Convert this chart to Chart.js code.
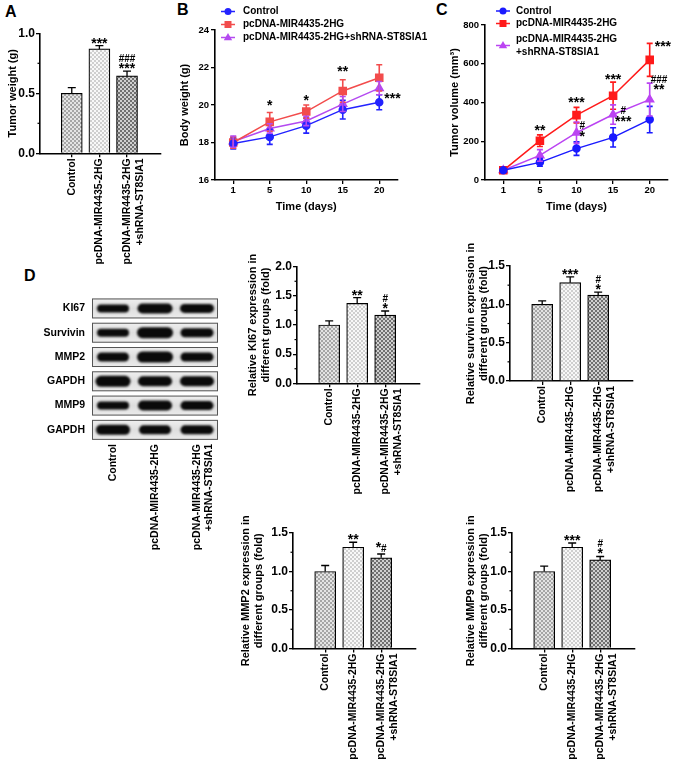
<!DOCTYPE html>
<html>
<head>
<meta charset="utf-8">
<title>MIR4435-2HG tumour figure</title>
<script src="https://cdn.jsdelivr.net/npm/chart.js@4.4.1/dist/chart.umd.min.js"></script>
<style>
  body { margin: 0; width: 677px; height: 771px; position: relative; background: #fff; overflow: hidden; }
  canvas { position: absolute; }
  .panel { position: absolute; font: bold 16px "Liberation Sans", Arial, sans-serif; color: #000; line-height: 18px; }
</style>
</head>
<body>
<div class="panel" style="left:5px;top:3px">A</div>
<div class="panel" style="left:177px;top:1px">B</div>
<div class="panel" style="left:436px;top:1px">C</div>
<div class="panel" style="left:24px;top:267px">D</div>
<script>
// ---------- data ----------
const groups = ['Control', 'pcDNA-MIR4435-2HG', ['pcDNA-MIR4435-2HG', '+shRNA-ST8SIA1']];
const seriesNames = ['Control', 'pcDNA-MIR4435-2HG', 'pcDNA-MIR4435-2HG+shRNA-ST8SIA1'];
const days = ['1', '5', '10', '15', '20'];

// A: tumor weight (g)
const tumorWeight = [0.50, 0.87, 0.645];
const tumorWeightErr = [0.047, 0.028, 0.04];
const tumorWeightStars = ['', '***', ['###', '***']];

// B: body weight (g)
const bodyControl = [17.95, 18.3, 18.9, 19.75, 20.15];
const bodyControlErr = [0.3, 0.4, 0.4, 0.5, 0.4];
const bodyMir = [18.0, 19.1, 19.65, 20.75, 21.45];
const bodyMirErr = [0.3, 0.5, 0.35, 0.6, 0.7];
const bodySh = [18.05, 18.75, 19.15, 20.05, 20.9];
const bodyShErr = [0.3, 0.25, 0.25, 0.4, 0.35];

// C: tumor volume (mm3)
const volControl = [50, 91, 162, 220, 312];
const volControlErr = [0, 20, 35, 50, 68];
const volMir = [50, 203, 335, 435, 620];
const volMirErr = [0, 30, 40, 70, 85];
const volSh = [50, 127, 244, 338, 415];
const volShErr = [0, 30, 55, 50, 85];

// D: western blot
const blotProteins = ['KI67', 'Survivin', 'MMP2', 'GAPDH', 'MMP9', 'GAPDH'];
const blotBandWidth = [[32, 35, 34], [32, 36, 33], [32, 36, 33], [35, 34, 34], [32, 34, 33], [34, 32, 33]];
const blotBandHeight = [[8, 10, 9], [8, 11, 9], [9, 11, 9], [11, 10, 10], [8, 10, 9], [10, 9, 9]];

// D: relative expression (fold)
const ki67 = [1.0, 1.37, 1.17];
const ki67Err = [0.07, 0.1, 0.07];
const ki67Stars = ['', '**', ['#', '*']];
const survivin = [1.0, 1.283, 1.12];
const survivinErr = [0.045, 0.075, 0.04];
const survivinStars = ['', '***', ['#', '*']];
const mmp2 = [1.0, 1.315, 1.177];
const mmp2Err = [0.078, 0.065, 0.05];
const mmp2Stars = ['', '**', ['*#']];
const mmp9 = [1.0, 1.315, 1.15];
const mmp9Err = [0.07, 0.055, 0.045];
const mmp9Stars = ['', '***', ['#', '*']];

// ---------- helpers ----------
const FONT = '"Liberation Sans", Arial, Helvetica, sans-serif';
Chart.defaults.font.family = FONT;
Chart.defaults.color = '#000';

function f(size) { return { family: FONT, size: size, weight: 'bold', lineHeight: 1.2 }; }
function pointValue(d) { return typeof d === 'object' ? d.y : d; }

// checkerboard fill, 2px cells
function checker(a, b) {
  const p = document.createElement('canvas');
  p.width = 4; p.height = 4;
  const g = p.getContext('2d');
  g.fillStyle = a; g.fillRect(0, 0, 4, 4);
  g.fillStyle = b; g.fillRect(0, 0, 2, 2); g.fillRect(2, 2, 2, 2);
  return g.createPattern(p, 'repeat');
}
const groupFills = [checker('#a6a6a6', '#e4e4e4'), checker('#cfcfcf', '#f8f8f8'), checker('#707070', '#d0d0d0')];

function noteFont(ch) { return ch === '#' ? 'bold 10px ' + FONT : 'bold 14px ' + FONT; }

// stack of significance marks, bottom of block at yb
function drawNote(ctx, x, yb, lines, dx) {
  ctx.save();
  ctx.fillStyle = '#000';
  ctx.textBaseline = 'alphabetic';
  ctx.textAlign = 'left';
  const rows = lines.map(line => {
    const glyphs = Array.from(line).map(ch => {
      ctx.font = noteFont(ch);
      const m = ctx.measureText(ch);
      return { ch: ch, font: ctx.font, w: m.width, asc: m.actualBoundingBoxAscent, desc: m.actualBoundingBoxDescent };
    });
    return {
      glyphs: glyphs,
      w: glyphs.reduce((s, g) => s + g.w, 0),
      asc: Math.max(...glyphs.map(g => g.asc)),
      desc: Math.max(...glyphs.map(g => g.desc))
    };
  });
  const maxW = Math.max(...rows.map(r => r.w));
  const cx = dx === undefined ? x : x + dx + maxW / 2;
  let cursor = yb;
  for (let k = rows.length - 1; k >= 0; k--) {
    const r = rows[k];
    const base = cursor - r.desc;
    let gx = cx - r.w / 2;
    r.glyphs.forEach(g => { ctx.font = g.font; ctx.fillText(g.ch, gx, base); gx += g.w; });
    cursor = base - r.asc - 1.5;
  }
  ctx.restore();
}

function drawMarker(ctx, style, x, y, color) {
  ctx.fillStyle = color;
  ctx.beginPath();
  if (style === 'rect') ctx.rect(x - 3.5, y - 3.5, 7, 7);
  else if (style === 'triangle') { ctx.moveTo(x, y - 4.5); ctx.lineTo(x + 4.2, y + 2.8); ctx.lineTo(x - 4.2, y + 2.8); ctx.closePath(); }
  else ctx.arc(x, y, 3.5, 0, Math.PI * 2);
  ctx.fill();
}

// ---------- plugins ----------
const errorBars = {
  id: 'errorBars',
  afterDatasetsDraw(chart) {
    const ctx = chart.ctx, ys = chart.scales.y, isBar = chart.config.type === 'bar';
    chart.data.datasets.forEach((ds, di) => {
      if (!ds.errors) return;
      const meta = chart.getDatasetMeta(di);
      ctx.save();
      ctx.strokeStyle = isBar ? '#000' : ds.borderColor;
      ctx.lineWidth = isBar ? 1.3 : 1.6;
      meta.data.forEach((el, i) => {
        const e = ds.errors[i];
        if (!e) return;
        const v = pointValue(ds.data[i]);
        const top = ys.getPixelForValue(v + e);
        const bot = ys.getPixelForValue(isBar ? v : v - e);
        const cap = isBar ? 4 : 3;
        ctx.beginPath();
        ctx.moveTo(el.x, bot); ctx.lineTo(el.x, top);
        ctx.moveTo(el.x - cap, top); ctx.lineTo(el.x + cap, top);
        if (!isBar) { ctx.moveTo(el.x - cap, bot); ctx.lineTo(el.x + cap, bot); }
        ctx.stroke();
      });
      ctx.restore();
    });
  }
};

const notesPlugin = {
  id: 'notes',
  afterDatasetsDraw(chart) {
    const ys = chart.scales.y;
    chart.data.datasets.forEach((ds, di) => {
      if (!ds.notes) return;
      const meta = chart.getDatasetMeta(di);
      ds.notes.forEach(n => {
        const el = meta.data[n.i];
        let yb;
        if (n.v !== undefined) yb = ys.getPixelForValue(n.v);
        else yb = ys.getPixelForValue(pointValue(ds.data[n.i]) + (ds.errors ? ds.errors[n.i] : 0)) - 2;
        drawNote(chart.ctx, el.x, yb, n.lines, n.dx);
      });
    });
  }
};

const minorTicks = {
  id: 'minorTicks',
  afterDraw(chart, args, opts) {
    if (!opts.step) return;
    const ys = chart.scales.y, ctx = chart.ctx, major = ys.options.ticks.stepSize;
    ctx.save();
    ctx.strokeStyle = '#000'; ctx.lineWidth = 1.2;
    for (let v = ys.min + opts.step; v < ys.max; v += opts.step) {
      if (Math.abs(v / major - Math.round(v / major)) < 1e-6) continue;
      const y = ys.getPixelForValue(v);
      ctx.beginPath(); ctx.moveTo(ys.right - 2.5, y); ctx.lineTo(ys.right, y); ctx.stroke();
    }
    ctx.restore();
  }
};

const sideLegend = {
  id: 'sideLegend',
  afterDraw(chart, args, opts) {
    if (!opts.rows) return;
    const ctx = chart.ctx, ox = chart.canvas.offsetLeft, oy = chart.canvas.offsetTop;
    ctx.save();
    chart.data.datasets.forEach((ds, i) => {
      const y = opts.rows[i] - oy, mx = opts.markerX - ox;
      ctx.strokeStyle = ds.borderColor; ctx.lineWidth = 1.5;
      ctx.beginPath(); ctx.moveTo(mx - 7, y); ctx.lineTo(mx + 7, y); ctx.stroke();
      drawMarker(ctx, ds.pointStyle, mx, y, ds.borderColor);
      const lines = opts.wrap ? ds.label.split(/(?=\+)/) : [ds.label];
      ctx.font = 'bold 10px ' + FONT; ctx.textBaseline = 'middle'; ctx.fillStyle = '#000';
      lines.forEach((t, k) => ctx.fillText(t, opts.textX - ox, y + (k - (lines.length - 1) / 2) * 12.5));
    });
    ctx.restore();
  }
};

const blotPlugin = {
  id: 'blot',
  beforeDatasetsDraw(chart, args, opts) {
    if (!opts.heights) return;
    const ctx = chart.ctx, xs = chart.scales.x, ys = chart.scales.y, a = chart.chartArea;
    ys.getLabels().forEach((name, r) => {
      const yc = ys.getPixelForValue(r);
      const g = ctx.createLinearGradient(0, yc - 10, 0, yc + 10);
      g.addColorStop(0, '#f0f0f0'); g.addColorStop(0.5, '#dedede'); g.addColorStop(1, '#ececec');
      ctx.fillStyle = g;
      ctx.fillRect(a.left, yc - 10, a.right - a.left, 20);
      ctx.strokeStyle = '#555'; ctx.lineWidth = 1;
      ctx.strokeRect(a.left + 0.5, yc - 9.5, a.right - a.left - 1, 19);
      xs.getLabels().forEach((lane, j) => {
        const xc = xs.getPixelForValue(j), w = opts.widths[r][j], h = opts.heights[r][j];
        ctx.save();
        ctx.filter = 'blur(1.1px)';
        ctx.fillStyle = '#0a0a0a';
        ctx.beginPath();
        ctx.roundRect(xc - w / 2, yc - h / 2, w, h, h / 2);
        ctx.fill();
        ctx.restore();
      });
    });
  }
};

Chart.register(errorBars, notesPlugin, minorTicks, sideLegend, blotPlugin);

// ---------- chart builders ----------
const axisGrid = () => ({ drawOnChartArea: false, color: '#000', lineWidth: 1.3, tickLength: 4 });
const axisBorder = () => ({ color: '#000', width: 1.6 });

function makeChart(box, area, cfg) {
  const c = document.createElement('canvas');
  c.width = box.w; c.height = box.h;
  c.style.left = box.x + 'px'; c.style.top = box.y + 'px';
  c.style.width = box.w + 'px'; c.style.height = box.h + 'px';
  document.body.appendChild(c);
  const o = cfg.options;
  o.responsive = false;
  o.animation = false;
  o.devicePixelRatio = 1;
  o.layout = { padding: { left: 0, top: area.t - box.y, right: box.x + box.w - area.r, bottom: 0 } };
  o.scales.x.afterFit = s => { s.height = box.y + box.h - area.b; };
  o.scales.y.afterFit = s => { s.width = area.l - box.x; };
  o.plugins = Object.assign({ legend: { display: false }, tooltip: { enabled: false } }, o.plugins);
  return new Chart(c, cfg);
}

function barChart(box, area, p) {
  return makeChart(box, area, {
    type: 'bar',
    data: {
      datasets: [{
        data: p.values.map((v, i) => ({ x: i, y: v })),
        errors: p.errors,
        notes: p.stars.map((s, i) => (s ? { i: i, lines: [].concat(s) } : null)).filter(Boolean),
        backgroundColor: groupFills,
        borderColor: '#000',
        borderWidth: 1.2,
        barThickness: 21
      }]
    },
    options: {
      plugins: { minorTicks: { step: p.step / 2 } },
      scales: {
        x: {
          type: 'linear', min: -0.42, max: 2.5,
          afterBuildTicks: s => { s.ticks = groups.map((g, i) => ({ value: i })); },
          ticks: { callback: v => groups[v], autoSkip: false, minRotation: 90, maxRotation: 90, padding: 1, font: f(10.5), color: '#000' },
          grid: Object.assign(axisGrid(), { offset: false }),
          border: axisBorder()
        },
        y: {
          min: 0, max: p.max,
          ticks: { stepSize: p.step, callback: v => v.toFixed(1), padding: 1, font: f(12), color: '#000' },
          grid: axisGrid(),
          border: axisBorder(),
          title: { display: true, text: p.title, font: f(11), padding: { top: p.titlePad, bottom: 0 }, color: '#000' }
        }
      }
    }
  });
}

function lineSet(label, values, errs, color, style, notes) {
  return {
    label: label, data: values, errors: errs, notes: notes,
    borderColor: color, backgroundColor: color,
    pointBackgroundColor: color, pointBorderColor: color,
    pointStyle: style, pointRadius: style === 'rect' ? 5 : (style === 'triangle' ? 4.5 : 3.5),
    borderWidth: 1.5, tension: 0
  };
}

function lineChart(box, area, p) {
  return makeChart(box, area, {
    type: 'line',
    data: { labels: days, datasets: p.series },
    options: {
      plugins: { sideLegend: p.legend },
      scales: {
        x: {
          type: 'category', offset: true,
          ticks: { font: f(9.5), padding: 1, color: '#000' },
          grid: Object.assign(axisGrid(), { offset: false }),
          border: axisBorder(),
          title: { display: true, text: 'Time (days)', font: f(11), padding: { top: 0, bottom: 8 }, color: '#000' }
        },
        y: {
          min: p.min, max: p.max,
          ticks: { stepSize: p.step, font: f(9.5), padding: 2, color: '#000' },
          grid: axisGrid(),
          border: axisBorder(),
          title: { display: true, text: p.title, font: f(11), padding: { top: p.titlePad, bottom: 0 }, color: '#000' }
        }
      }
    }
  });
}

// ---------- panel A ----------
barChart({ x: 0, y: 0, w: 168, h: 272 }, { l: 40, t: 33.3, r: 161, b: 153.3 },
  { values: tumorWeight, errors: tumorWeightErr, stars: tumorWeightStars, max: 1.0, step: 0.5, title: 'Tumor weight (g)', titlePad: 6 });

// ---------- panel B ----------
lineChart({ x: 165, y: 0, w: 262, h: 222 }, { l: 215, t: 30, r: 397.5, b: 180 }, {
  min: 16, max: 24, step: 2, title: 'Body weight (g)', titlePad: 13,
  legend: { markerX: 228, textX: 243, rows: [11.5, 24.5, 37.5] },
  series: [
    lineSet(seriesNames[0], bodyControl, bodyControlErr, '#2323ff', 'circle'),
    lineSet(seriesNames[1], bodyMir, bodyMirErr, '#f24c4c', 'rect', [
      { i: 1, v: 19.95, lines: ['*'] },
      { i: 2, v: 20.2, lines: ['*'] },
      { i: 3, v: 21.75, lines: ['**'] },
      { i: 4, v: 20.3, lines: ['***'], dx: 5 }
    ]),
    lineSet(seriesNames[2], bodySh, bodyShErr, '#b44af0', 'triangle')
  ]
});

// ---------- panel C ----------
lineChart({ x: 440, y: 0, w: 237, h: 222 }, { l: 485, t: 25, r: 668, b: 180 }, {
  min: 0, max: 800, step: 200, title: 'Tumor volume (mm³)', titlePad: 8,
  legend: { markerX: 503, textX: 516, rows: [11, 23.5, 45.5], wrap: true },
  series: [
    lineSet(seriesNames[0], volControl, volControlErr, '#1a1aff', 'circle'),
    lineSet(seriesNames[1], volMir, volMirErr, '#ff1a1a', 'rect', [
      { i: 1, v: 252, lines: ['**'] },
      { i: 2, v: 400, lines: ['***'] },
      { i: 3, v: 518, lines: ['***'] },
      { i: 4, v: 686, lines: ['***'], dx: 5 }
    ]),
    lineSet(seriesNames[2], volSh, volShErr, '#bb44f2', 'triangle', [
      { i: 2, v: 222, lines: ['#', '*'], dx: 3 },
      { i: 3, v: 300, lines: ['#', '***'], dx: 2 },
      { i: 4, v: 463, lines: ['###', '**'], dx: 1 }
    ])
  ]
});

// ---------- panel D: blot ----------
makeChart({ x: 0, y: 283, w: 232, h: 267 }, { l: 92, t: 292, r: 218, b: 442 }, {
  type: 'bar',
  data: { labels: groups, datasets: [] },
  options: {
    plugins: { blot: { widths: blotBandWidth, heights: blotBandHeight } },
    scales: {
      x: {
        type: 'category', labels: groups, offset: true,
        ticks: { autoSkip: false, minRotation: 90, maxRotation: 90, padding: 2, font: f(10.5), color: '#000' },
        grid: { display: false, drawTicks: false }, border: { display: false }
      },
      y: {
        type: 'category', labels: blotProteins, offset: true,
        ticks: { autoSkip: false, padding: 7, font: f(10.5), color: '#000' },
        grid: { display: false, drawTicks: false }, border: { display: false }
      }
    }
  }
});

// ---------- panel D: quantification ----------
barChart({ x: 235, y: 200, w: 195, h: 310 }, { l: 297, t: 266.7, r: 419.6, b: 383.3 },
  { values: ki67, errors: ki67Err, stars: ki67Stars, max: 2.0, step: 0.5,
    title: ['Relative KI67 expression in', 'different groups (fold)'], titlePad: 11 });
barChart({ x: 455, y: 200, w: 222, h: 310 }, { l: 510, t: 266, r: 632.6, b: 381 },
  { values: survivin, errors: survivinErr, stars: survivinStars, max: 1.5, step: 0.5,
    title: ['Relative survivin expression in', 'different groups (fold)'], titlePad: 9 });
barChart({ x: 230, y: 440, w: 200, h: 331 }, { l: 293, t: 533, r: 415.6, b: 648.5 },
  { values: mmp2, errors: mmp2Err, stars: mmp2Stars, max: 1.5, step: 0.5,
    title: ['Relative MMP2 expression in', 'different groups (fold)'], titlePad: 9 });
barChart({ x: 455, y: 440, w: 222, h: 331 }, { l: 512, t: 533, r: 634.6, b: 648.5 },
  { values: mmp9, errors: mmp9Err, stars: mmp9Stars, max: 1.5, step: 0.5,
    title: ['Relative MMP9 expression in', 'different groups (fold)'], titlePad: 9 });
</script>
</body>
</html>
